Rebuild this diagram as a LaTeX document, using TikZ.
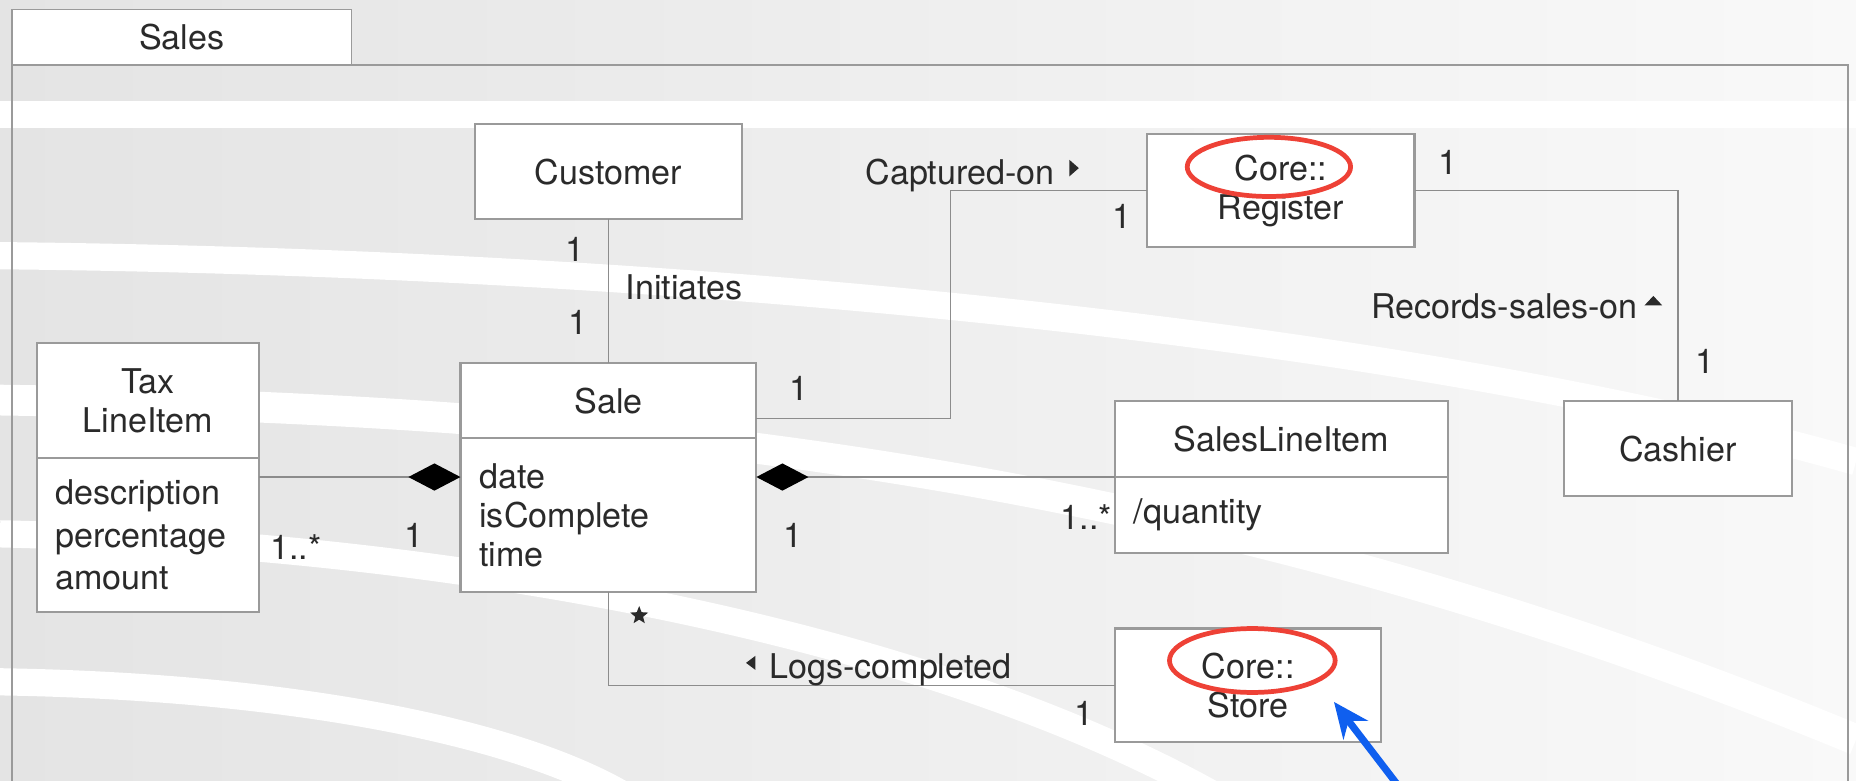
\documentclass[tikz,border=0pt]{standalone}
\usepackage{fontspec}
\setmainfont{TeX Gyre Heros}
\usetikzlibrary{arrows.meta,positioning,calc,shapes.geometric}
\definecolor{bgleft}{HTML}{E4E4E4}
\definecolor{bgright}{HTML}{F9F9F9}
\definecolor{boxgray}{HTML}{9A9A9A}
\definecolor{linegray}{HTML}{8C8C8C}
\definecolor{umltext}{HTML}{2A2A2A}
\definecolor{markred}{HTML}{EE4136}
\definecolor{markblue}{HTML}{0F5FEF}
\newcommand{\umlfont}{\fontsize{28.8}{33}\selectfont}
\tikzset{
    >={Stealth[]},
    every picture/.style={line width=1.2pt},
    classbox/.style={draw=boxgray,fill=white,line width=1.8pt,inner sep=0pt,outer sep=0pt,text=umltext,font=\umlfont,align=center},
    attrbox/.style={classbox,align=left,inner xsep=16pt},
    mult/.style={inner sep=0pt,text=umltext,font=\umlfont},
    assoc/.style={draw=linegray,line width=1.2pt},
    composite/.style={assoc,{Diamond[length=44pt,width=23pt,fill=black,color=black]}-},
    band/.style={draw=white,line width=23pt},
    callout/.style={ellipse,draw=markred,line width=4pt,inner sep=0pt}
}
\begin{document}
\begin{tikzpicture}[x=1pt,y=-1pt]
    \useasboundingbox (0,0) rectangle (1568,659);
    \clip (0,0) rectangle (1568,659);
    % background swooshes
    \fill[left color=bgleft,right color=bgright] (0,0) rectangle (1568,659);
    \draw[band] (0,97) -- (1568,97);
    \draw[band] (0,216) .. controls (600,222) and (1200,285) .. (1568,390);
    \draw[band,line width=26pt] (0,338) .. controls (500,345) and (1000,390) .. (1568,625);
    \draw[band] (0,451) .. controls (400,460) and (800,540) .. (1040,680);
    \draw[band] (0,576) .. controls (250,580) and (450,620) .. (540,680);

    % package
    \node[classbox,line width=1.5pt,minimum width=287pt,minimum height=47pt] (salestab) at (153.5,31.5) {Sales};
    \draw[draw=boxgray,line width=1.5pt] (10,670) -- (salestab.south west) -| (1561,670);

    % classes
    \node[classbox,minimum width=225pt,minimum height=80pt] (customer) at (514,145) {Customer};
    \node[classbox,minimum width=226pt,minimum height=96pt] (register) at (1082,161) {Core::\\Register};
    \node[classbox,minimum width=193pt,minimum height=80pt] (cashier) at (1417.5,379) {Cashier};
    \node[classbox,minimum width=188pt,minimum height=97pt] (taxhead) at (125,338.5) {Tax\\LineItem};
    \node[attrbox,text width=156pt,minimum height=130pt,font=\fontsize{28.8}{36}\selectfont,below=0pt of taxhead] (taxattr) {description\\percentage\\amount};
    \node[classbox,minimum width=250pt,minimum height=63pt] (salehead) at (514,338.5) {Sale};
    \node[attrbox,text width=218pt,minimum height=130pt,below=0pt of salehead] (saleattr) {date\\isComplete\\time};
    \node[classbox,minimum width=281pt,minimum height=64pt] (slihead) at (1082.5,371) {SalesLineItem};
    \node[attrbox,text width=249pt,minimum height=64pt,below=0pt of slihead] (sliattr) {/quantity};
    \node[classbox,minimum width=225pt,minimum height=96pt] (store) at (1054.5,579) {Core::\\Store};

    % associations
    \draw[assoc] (customer) -- (salehead);
    \draw[assoc] ([yshift=-15pt]salehead.east) -| ([xshift=-166pt]register.west) -- (register.west);
    \draw[assoc] (register.east) -| (cashier.north);
    \draw[composite] (saleattr.west |- sliattr.north west) -- (taxattr.east |- sliattr.north west);
    \draw[composite] (saleattr.east |- sliattr.north west) -- (sliattr.north west);
    \draw[assoc] (saleattr.south) |- (store.west);

    % multiplicities and names
    \node[mult] (custone) at (486,211) {1};
    \node[mult] (initone) at (488,272) {1};
    \node[mult] (initiates) at (578,243) {Initiates};
    \node[mult] (captone) at (675,328) {1};
    \node[mult] (regone) at (948,183) {1};
    \node[mult] (capt) at (811,148) {Captured-on};
    \fill[umltext] ($(capt.east)+(12,-13)$) -- ++(8,7) -- ++(-8,7) -- cycle;
    \node[mult] (recone) at (1223,137) {1};
    \node[mult] (cashone) at (1440,305) {1};
    \node[mult] (records) at (1271,259) {Records-sales-on};
    \fill[umltext] ($(records.east)+(5,-1)$) -- ++(15,0) -- ++(-7.5,-8) -- cycle;
    \node[mult] (taxmany) at (250,462) {1..*};
    \node[mult] (taxone) at (350,452) {1};
    \node[mult] (slione) at (670,452) {1};
    \node[mult,anchor=east] (slimany) at (940,437) {1..*};
    \node[star,star points=5,star point ratio=2.3,fill=umltext,minimum size=16pt,inner sep=0pt] (logmany) at (540,520) {};
    \node[mult] (storeone) at (916,603) {1};
    \node[mult] (logs) at (752,566) {Logs-completed};
    \fill[umltext] ($(logs.west)+(-11,-12)$) -- ++(0,12) -- ++(-8,-6) -- cycle;

    % highlights
    \node[callout,minimum width=138pt,minimum height=50pt] (regmark) at (1072,141) {};
    \node[callout,minimum width=140pt,minimum height=54pt] (storemark) at (1058,558) {};
    \coordinate (pointerfoot) at (1186,670);
    \coordinate (pointertip) at (1127,593);
    \draw[markblue,line width=6pt,-{Stealth[length=30pt,width=26pt]}] (pointerfoot) -- (pointertip);
\end{tikzpicture}
\end{document}
